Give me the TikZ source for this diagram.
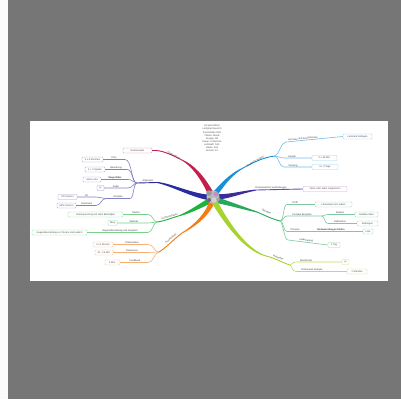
\documentclass[tikz,border=0pt]{standalone}
\usepackage{fontspec}
\setmainfont{Liberation Sans}
\usetikzlibrary{calc}
\definecolor{bg}{HTML}{767676}
\definecolor{mred}{HTML}{C41E4A}
\definecolor{mblue}{HTML}{2B2BA0}
\definecolor{mgreen}{HTML}{1DB33D}
\definecolor{morange}{HTML}{F47C14}
\definecolor{msky}{HTML}{1B8FD6}
\definecolor{mindigo}{HTML}{3A2D9C}
\definecolor{memer}{HTML}{26A95A}
\definecolor{mlime}{HTML}{A7D32E}
\newcommand{\mmtf}{\fontsize{2.4}{3.15}\selectfont}
\newcommand{\mmtaper}[7]{\fill[#1] ($(#2)+(#6,#7)$) .. controls ($(#3)+0.75*(#6,#7)$) and ($(#4)+0.45*(#6,#7)$) .. ($(#5)+0.18*(#6,#7)$) -- ($(#5)-0.18*(#6,#7)$) .. controls ($(#4)-0.45*(#6,#7)$) and ($(#3)-0.75*(#6,#7)$) .. ($(#2)-(#6,#7)$) -- cycle;}
\tikzset{
  lab/.style={font=\mmtf, text=black!75, inner sep=0.3pt, anchor=south},
  bx/.style={draw=#1, rounded corners=0.9pt, line width=0.45pt, inner sep=0.5pt, minimum height=5pt, font=\mmtf, text=black!70, fill=white},
  sb/.style={draw=#1, line width=0.6pt},
  tb/.style={draw=#1, line width=0.9pt},
}
\begin{document}
\begin{tikzpicture}[x=1pt,y=-1pt]
\useasboundingbox (0,0) rectangle (401,399);
\fill[bg] (0,0) rectangle (401,399);
\fill[black!2] (0,0) rectangle (8,399);
\fill[white] (30,121) rectangle (388,281);

% top text
\node[font=\mmtf, align=center, text=black!70, inner sep=0] (top) at (212,138.5)
 {A1 Sprachkurs\\Lehrplan Deutsch\\Kursinhalte 2023\\Thema: Musik\\Gruppe: B2\\Dauer: 6 Wochen\\Lehrkraft: N.N.\\Raum: 204\\Version 1.0};

% ---------- RED ----------
\coordinate (rS) at (211,194); \coordinate (rC1) at (202,176); \coordinate (rC2) at (192,165);
\coordinate (rT) at (182,160); \coordinate (rH) at (156,150.5);
\mmtaper{mred}{rS}{rC1}{rC2}{rT}{2.4}{-1.4}
\node[bx=mred!50, minimum width=29pt] (rbox) at (137.5,150.5) {Rahmenplan};
\draw[tb=mred] (rT) .. controls (172,155) and (164,151) .. (rH) -- (rbox.east);
\node[lab, rotate=-28] (rlab) at (173,157) {Organisation};

% ---------- BLUE ----------
\coordinate (bS) at (211,197.5); \coordinate (bC1) at (195,197); \coordinate (bC2) at (170,184);
\coordinate (bT) at (157,182.5); \coordinate (bH) at (137,183);
\mmtaper{mblue}{bS}{bC1}{bC2}{bT}{0.3}{2.9}
\draw[tb=mblue] (bT) -- (bH);
\node[lab] (blab) at (148,182.5) {Allgemein};
\node[bx=mblue!45, minimum width=21pt] (b1box) at (92.5,159.5) {2 x 4 Stimmen};
\node[bx=mblue!45, minimum width=20pt] (b2box) at (95,169.5) {4 + 2 Spieler};
\node[bx=mblue!45, minimum width=18pt] (b3box) at (92,179.5) {siehe Liste};
\node[bx=mblue!45, minimum width=7pt] (b4box) at (100.5,188) {ja};
\node[bx=mblue!45, minimum width=19pt] (b5box) at (67.5,197) {CD-Version};
\node[bx=mblue!45, minimum width=19pt] (b6box) at (66.5,205.5) {MP3-Version};
\coordinate (b1R) at (125,159.5); \coordinate (b2R) at (127,169.5); \coordinate (b3R) at (128,179.5);
\coordinate (b4R) at (128,188); \coordinate (b5R) at (130,198.5); \coordinate (b5H) at (106,198.5);
\coordinate (b5aR) at (96,197); \coordinate (b5bR) at (96,205.5);
\draw[sb=mblue!60] (bH) .. controls (131,183) and (132,159.5) .. (b1R) -- (b1box.east);
\draw[sb=mblue!60] (bH) .. controls (132,183) and (133,169.5) .. (b2R) -- (b2box.east);
\draw[sb=mblue!60] (bH) .. controls (133,183) and (133,179.5) .. (b3R) -- (b3box.east);
\draw[sb=mblue!60] (bH) .. controls (133,183) and (133,188) .. (b4R) -- (b4box.east);
\draw[sb=mblue!60] (bH) .. controls (133,184) and (134,198.5) .. (b5R) -- (b5H);
\draw[sb=mblue!60] (b5H) .. controls (101,198.5) and (101,197) .. (b5aR) -- (b5box.east);
\draw[sb=mblue!60] (b5H) .. controls (101,198.5) and (101,205.5) .. (b5bR) -- (b6box.east);
\node[lab] (b1lab) at (114,159.5) {Chor};
\node[lab] (b2lab) at (116,169.5) {Besetzung};
\node[lab, font=\mmtf\bfseries] (b3lab) at (115,179.5) {Stage Rider};
\node[lab] (b4lab) at (116,188) {Audio};
\node[lab] (b5lab) at (118,198.5) {Kontakte};
\node[lab] (b5alab) at (86.5,197) {CD};
\node[lab] (b5blab) at (86.5,205.5) {Download};

% ---------- GREEN (left) ----------
\coordinate (gS) at (211,200); \coordinate (gC1) at (200,206); \coordinate (gC2) at (190,212);
\coordinate (gT) at (180,215.5); \coordinate (gH) at (157,222);
\mmtaper{mgreen}{gS}{gC1}{gC2}{gT}{0.9}{2.8}
\draw[tb=mgreen] (gT) .. controls (171,218) and (165,221) .. (gH);
\node[lab, rotate=16] (glab) at (170,218) {Kommunikation};
\node[bx=mgreen!45, minimum width=55pt] (g1box) at (95.5,214.5) {Vorbesprechung mit allen Beteiligten};
\node[bx=mgreen!45, minimum width=9pt] (g2box) at (112.5,223) {Blog};
\node[bx=mgreen!45, minimum width=55pt] (g3box) at (59.5,232.5) {Gegenüberstellung von Texten und Liedern};
\coordinate (g1R) at (148,214.5); \coordinate (g2R) at (148,223); \coordinate (g3R) at (148,232.5);
\draw[sb=mgreen!60] (gH) .. controls (153,222) and (153,214.5) .. (g1R) -- (g1box.east);
\draw[sb=mgreen!60] (gH) .. controls (153,222) and (153,223) .. (g2R) -- (g2box.east);
\draw[sb=mgreen!60] (gH) .. controls (153,222) and (153,232.5) .. (g3R) -- (g3box.east);
\node[lab] (g1lab) at (136,214.5) {Telefon};
\node[lab] (g2lab) at (134,223) {Website};
\node[lab] (g3lab) at (120,232.5) {Gegenüberstellung und Vergleich};

% ---------- ORANGE ----------
\coordinate (oS) at (212,201); \coordinate (oC1) at (209,213); \coordinate (oC2) at (195,226);
\coordinate (oT) at (182,233); \coordinate (oH) at (159,252);
\mmtaper{morange}{oS}{oC1}{oC2}{oT}{2.5}{1.1}
\draw[tb=morange] (oT) .. controls (174,239) and (167,247) .. (oH);
\node[lab, rotate=40] (olab) at (172,240) {Projektarbeit};
\node[bx=morange!45, minimum width=20pt] (o1box) at (103,244.5) {3 x 1 Woche};
\node[bx=morange!45, minimum width=18pt] (o2box) at (104,252.5) {10 - 15 Min.};
\node[bx=morange!45, minimum width=15pt] (o3box) at (112.5,262.5) {5 Min.};
\coordinate (o1R) at (148,244.5); \coordinate (o2R) at (148,252.5); \coordinate (o3R) at (148,262.5);
\draw[sb=morange!60] (oH) .. controls (154,252) and (154,244.5) .. (o1R) -- (o1box.east);
\draw[sb=morange!60] (oH) .. controls (154,252) and (154,252.5) .. (o2R) -- (o2box.east);
\draw[sb=morange!60] (oH) .. controls (154,252) and (154,262.5) .. (o3R) -- (o3box.east);
\node[lab] (o1lab) at (132,244.5) {Präsentation};
\node[lab] (o2lab) at (132,252.5) {Diskussion};
\node[lab] (o3lab) at (135,262.5) {Feedback};

% ---------- SKY ----------
\coordinate (sS) at (215,194); \coordinate (sC1) at (222,185); \coordinate (sC2) at (231,174);
\coordinate (sT) at (243,168); \coordinate (sH) at (275,156);
\mmtaper{msky}{sS}{sC1}{sC2}{sT}{2.2}{1.6}
\draw[tb=msky] (sT) .. controls (252,163) and (264,157) .. (sH);
\node[lab, rotate=30] (slab) at (256,162.5) {Inhaltliche Struktur};
\node[bx=msky!45, minimum width=29pt] (s1box) at (357.5,136.5) {Lernziele festlegen};
\node[bx=msky!45, minimum width=25pt] (s2box) at (324.5,158) {2 x 45 Min.};
\node[bx=msky!45, minimum width=26pt] (s3box) at (325,167) {ca. 3 Tage};
\coordinate (s1L) at (286,142); \coordinate (s2L) at (284,158); \coordinate (s3L) at (284,167);
\draw[sb=msky!60] (sH) .. controls (280,154) and (280,143) .. (s1L) -- (s1box.west);
\draw[sb=msky!60] (sH) .. controls (279,156) and (279,158) .. (s2L) -- (s2box.west);
\draw[sb=msky!60] (sH) .. controls (279,157) and (279,167) .. (s3L) -- (s3box.west);
\node[lab, rotate=5.5] (s1lab) at (303,140.4) {Lernziele und Kompetenzen};
\node[lab] (s2lab) at (292,158) {Stunde};
\node[lab] (s3lab) at (293,167) {Planung};

% ---------- INDIGO ----------
\coordinate (iS) at (216,197); \coordinate (iC1) at (228,197); \coordinate (iC2) at (242,192);
\coordinate (iT) at (256,190);
\mmtaper{mindigo}{iS}{iC1}{iC2}{iT}{0}{2.8}
\node[bx=violet!35, minimum width=44pt] (ibox) at (325,189) {Texte und Lieder vergleichen};
\draw[tb=mindigo!80] (iT) -- (ibox.west);
\node[lab] (ilab) at (271,189.6) {Grammatische Verbindungen};

% ---------- EMERALD ----------
\coordinate (eS) at (216,200); \coordinate (eC1) at (228,203); \coordinate (eC2) at (243,208);
\coordinate (eT) at (257,212); \coordinate (eH) at (280,221);
\mmtaper{memer}{eS}{eC1}{eC2}{eT}{-0.6}{2.8}
\draw[tb=memer] (eT) .. controls (264,215) and (272,219) .. (eH);
\node[lab, rotate=-20] (elab) at (266,213.5) {Übungen};
\node[bx=memer!45, minimum width=37pt] (e1box) at (333.5,204.5) {Lückentext mit Liedern};
\node[bx=memer!45, minimum width=23pt] (e2abox) at (366.5,214.5) {Satzbau üben};
\node[bx=memer!45, minimum width=21pt] (e2bbox) at (367.5,223.5) {Endungen};
\node[bx=memer!45, minimum width=10pt] (e3box) at (368,231.5) {Liste};
\node[bx=memer!45, minimum width=12pt] (e4box) at (334,245) {1 Tag};
\coordinate (e1L) at (287,204.5); \coordinate (e2L) at (287,216); \coordinate (e2H) at (322,216);
\coordinate (e2aL) at (328,214.5); \coordinate (e2bL) at (328,223.5);
\coordinate (e3L) at (287,231.5); \coordinate (e4L) at (288,240);
\draw[sb=memer!60] (eH) .. controls (284,221) and (283,204.5) .. (e1L) -- (e1box.west);
\draw[sb=memer!60] (eH) .. controls (284,221) and (283,216) .. (e2L) -- (e2H);
\draw[sb=memer!60] (e2H) .. controls (325,216) and (324,214.5) .. (e2aL) -- (e2abox.west);
\draw[sb=memer!60] (e2H) .. controls (325,216) and (324,223.5) .. (e2bL) -- (e2bbox.west);
\draw[sb=memer!60] (eH) .. controls (284,221) and (283,231.5) .. (e3L) -- (e3box.west);
\draw[sb=memer!60] (eH) .. controls (283,222) and (284,240) .. (e4L) -- (e4box.west);
\node[lab] (e1lab) at (295,204.5) {Profil};
\node[lab] (e2lab) at (302,216) {Formale Beispiele};
\node[lab] (e2alab) at (340,214.5) {Struktur};
\node[lab] (e2blab) at (340,223.5) {Deklination};
\node[lab] (e3lab) at (295,231.5) {Phrasen};
\node[lab, font=\mmtf\bfseries] (e3blab) at (331,231.5) {Redewendungen finden};
\node[lab, rotate=-7] (e4lab) at (306,242.2) {Vorbereitung};

% ---------- LIME ----------
\coordinate (lS) at (214,201); \coordinate (lC1) at (226,222); \coordinate (lC2) at (245,250);
\coordinate (lT) at (266,256); \coordinate (lH) at (290,265);
\mmtaper{mlime}{lS}{lC1}{lC2}{lT}{2.3}{-1.7}
\draw[tb=mlime] (lT) .. controls (275,258) and (283,263) .. (lH);
\node[lab, rotate=-20] (llab) at (278,259) {Methoden};
\node[bx=mlime!60, minimum width=7pt] (l1box) at (345.5,262) {ja};
\node[bx=mlime!60, minimum width=20pt] (l2box) at (357,271.5) {2 Stunden};
\coordinate (l1L) at (296,262); \coordinate (l2L) at (296,271.5);
\draw[sb=mlime!75] (lH) .. controls (292,265) and (292,262) .. (l1L) -- (l1box.west);
\draw[sb=mlime!75] (lH) .. controls (292,266) and (292,271.5) .. (l2L) -- (l2box.west);
\node[lab] (l1lab) at (306,262) {Wortschatz};
\node[lab] (l2lab) at (312,271.5) {Rollenspiel-Analyse};

% ---------- CENTER ----------
\node[circle, fill=gray!55, minimum size=13pt, inner sep=0pt] (ctr) at (213,197) {};
\fill[gray!80] (209,193) circle (2.8pt);
\fill[violet!45] (216,194) circle (2.4pt);
\fill[gray!35] (214,200) circle (2.6pt);
\fill[violet!30!gray] (209,200) circle (2pt);
\fill[gray!70] (218,199.5) circle (1.8pt);
\end{tikzpicture}
\end{document}
